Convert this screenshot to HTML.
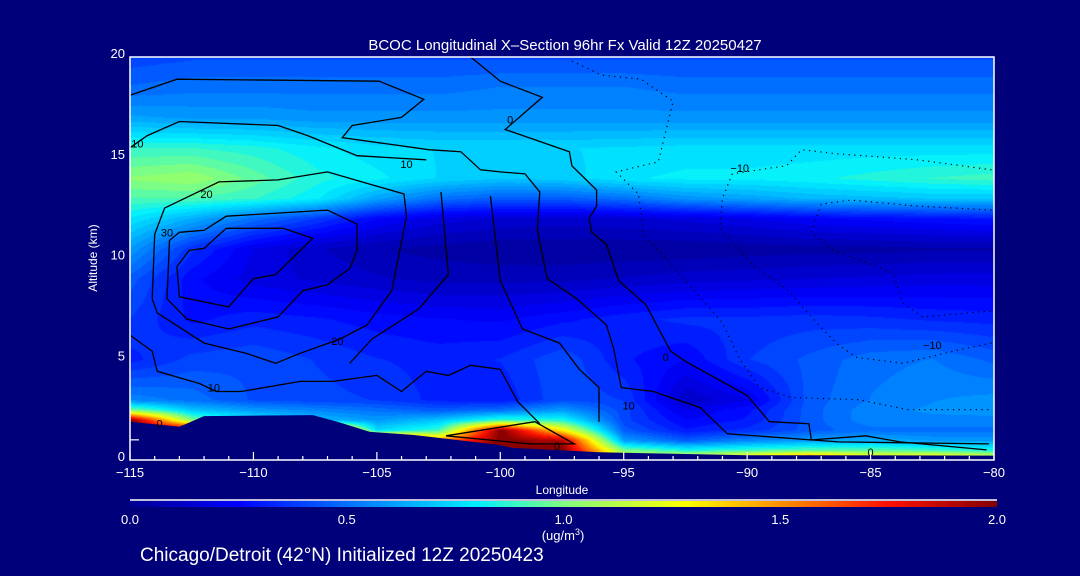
<!DOCTYPE html>
<html><head><meta charset="utf-8">
<style>
html,body{margin:0;padding:0;background:#00007a;}
#wrap{position:relative;width:1080px;height:576px;overflow:hidden;background:#00007a;font-family:"Liberation Sans",sans-serif;}
canvas{position:absolute;left:0;top:0;}
svg{position:absolute;left:0;top:0;}
</style></head>
<body>
<div id="wrap">
<canvas id="field" width="1080" height="576"></canvas>
<svg id="ov" width="1080" height="576" xmlns="http://www.w3.org/2000/svg">
 <defs>
  <linearGradient id="cbar" x1="0" x2="1" y1="0" y2="0">
   <stop offset="0" stop-color="#000090"/>
   <stop offset="0.125" stop-color="#0000ff"/>
   <stop offset="0.25" stop-color="#0070ff"/>
   <stop offset="0.4" stop-color="#00f0ff"/>
   <stop offset="0.5" stop-color="#80ff80"/>
   <stop offset="0.64" stop-color="#ffff00"/>
   <stop offset="0.75" stop-color="#ff9000"/>
   <stop offset="0.875" stop-color="#ff1000"/>
   <stop offset="1" stop-color="#800000"/>
  </linearGradient>
 </defs>
 <g id="terrain"></g>
 <g id="contours"></g>
 <g id="axes"></g>
 <text x="565" y="50" fill="#fff" font-size="15" text-anchor="middle">BCOC Longitudinal X–Section 96hr  Fx Valid 12Z 20250427</text>
 <text x="97" y="258" fill="#fff" font-size="12" text-anchor="middle" transform="rotate(-90 97 258)">Altitude (km)</text>
 <text x="562" y="494" fill="#fff" font-size="12" text-anchor="middle">Longitude</text>
 <line x1="130" y1="500" x2="997" y2="500" stroke="#fff" stroke-width="1.5"/>
 <rect x="130" y="501" width="867" height="6" fill="url(#cbar)"/>
 <g id="cblabels"></g>
 <text x="563" y="540" fill="#fff" font-size="13" text-anchor="middle">(ug/m<tspan font-size="9" dy="-5">3</tspan><tspan dy="5">)</tspan></text>
 <text x="140" y="561" fill="#fff" font-size="19">Chicago/Detroit (42°N) Initialized 12Z 20250423</text>
</svg>
</div>
<script>
// ---- data ----
const lons=[-115,-112.5,-110,-107.5,-105,-102.5,-100,-97.5,-95,-92.5,-90,-87.5,-85,-82.5,-80];
const alts=[0,0.5,1,1.5,2,2.5,3,5,7,9,10.5,12,13,14,15.5,17,18.5,20];
const conc00=[2,2,2,2,2,2,2,2,1.3,1.4,1.6,1.9,1.5,1.6,1.4];
const conc00_5=[2,2,2,2,2,2,2,2,1.0,0.85,0.9,0.95,0.95,0.9,0.85];
const conc01=[2,2,2,2,2,1.5,2.0,1.9,0.6,0.45,0.55,0.6,0.65,0.6,0.6];
const conc01_5=[2,2,2,2,0.75,0.9,2.0,1.3,0.45,0.3,0.35,0.45,0.5,0.5,0.5];
const conc02=[2.0,1.0,0.8,0.68,0.6,0.7,0.9,0.85,0.4,0.25,0.3,0.45,0.55,0.55,0.55];
const conc02_5=[1.0,0.7,0.6,0.55,0.5,0.45,0.5,0.6,0.4,0.2,0.28,0.45,0.55,0.57,0.58];
const conc03=[0.55,0.5,0.42,0.4,0.38,0.32,0.3,0.42,0.38,0.12,0.2,0.45,0.52,0.56,0.58];
const conc05=[0.32,0.4,0.42,0.38,0.34,0.32,0.34,0.42,0.3,0.25,0.38,0.44,0.5,0.52,0.46];
const conc07=[0.38,0.28,0.32,0.3,0.27,0.25,0.24,0.28,0.32,0.35,0.35,0.36,0.35,0.33,0.32];
const conc09=[0.45,0.26,0.18,0.15,0.12,0.1,0.1,0.1,0.12,0.14,0.15,0.16,0.17,0.18,0.18];
const conc10_5=[0.6,0.35,0.2,0.12,0.07,0.05,0.03,0.03,0.03,0.03,0.04,0.05,0.05,0.06,0.06];
const conc12=[0.78,0.65,0.5,0.38,0.25,0.18,0.15,0.14,0.15,0.17,0.2,0.24,0.26,0.28,0.3];
const conc13=[0.92,0.92,0.88,0.8,0.62,0.5,0.45,0.45,0.5,0.58,0.62,0.66,0.68,0.7,0.7];
const conc14=[1.02,1.05,0.95,0.85,0.8,0.74,0.7,0.72,0.78,0.8,0.8,0.82,0.85,0.88,0.9];
const conc15_5=[0.88,0.88,0.85,0.8,0.76,0.74,0.74,0.74,0.75,0.76,0.76,0.76,0.76,0.76,0.76];
const conc17=[0.62,0.6,0.6,0.58,0.58,0.58,0.58,0.58,0.58,0.58,0.58,0.58,0.58,0.58,0.58];
const conc18_5=[0.48,0.5,0.5,0.5,0.5,0.5,0.52,0.52,0.52,0.5,0.5,0.5,0.5,0.5,0.5];
const conc20=[0.4,0.42,0.42,0.42,0.42,0.42,0.42,0.42,0.42,0.42,0.42,0.42,0.42,0.42,0.42];
const concRows=[conc00,conc00_5,conc01,conc01_5,conc02,conc02_5,conc03,conc05,conc07,conc09,conc10_5,conc12,conc13,conc14,conc15_5,conc17,conc18_5,conc20];

const cmapVals=[0,0.25,0.5,0.8,1.0,1.28,1.5,1.75,2.0];
const cmapCols=[[0,0,144],[0,0,255],[0,112,255],[0,240,255],[128,255,128],[255,255,0],[255,144,0],[255,16,0],[128,0,0]];

const terrainLon=[-115,-113,-112,-107.6,-106.6,-105.3,-103.5,-100.1,-99.5,-96,-90,-80];
const terrainAlt=[1.9,1.65,2.18,2.23,1.9,1.4,1.24,0.76,0.6,0.38,0.24,0.22];

const xTicksMajor=[-115,-110,-105,-100,-95,-90,-85,-80];
const xTickLabels=["−115","−110","−105","−100","−95","−90","−85","−80"];
const yTicks=[0,5,10,15,20];
const yTickLabels=["0","5","10","15","20"];
const cbTicks=[0,0.5,1.0,1.5,2.0];
const cbTickLabels=["0.0","0.5","1.0","1.5","2.0"];

// contour lines (lon, alt)
const cOuterLon=[-115,-113.1,-104.9,-103.1,-104,-106,-106.4,-102.9,-101.6,-100.8,-100,-99,-98.4,-98.5,-98.1,-96.9,-95.7,-95.4,-95.1,-93.8,-91.9,-90.8,-86.3,-80.2];
const cOuterAlt=[18.1,18.9,18.8,17.9,17,16.6,16,15.4,15.3,14.4,14.3,14.2,13.3,11.4,9,8,6.7,5.5,3.6,3.4,2.6,1.3,0.9,0.8];
const cZeroLon=[-101.2,-100,-98.3,-99.8,-97.2,-97.1,-96.1,-96.1,-96.4,-96.3,-95.7,-95.2,-94.1,-93.1,-92.5,-90,-89.1,-87.5,-87.4,-85.2,-83.8,-80.3];
const cZeroAlt=[20,18.8,18,16.4,15.3,14.6,13.4,12.6,12,11.3,10.7,8.9,7.7,5.4,4.9,3.2,1.9,1.8,1,1.2,0.9,0.5];
const c30Lon=[-113.1,-112.6,-112,-111.1,-108.8,-107.6,-109.1,-110,-111,-113,-113.1];
const c30Alt=[9.6,10.4,10.5,11.5,11.5,11,9.2,9,7.6,8.1,9.6];
const c20aLon=[-113.5,-113.4,-113,-112,-111.1,-107,-105.8,-105.8,-106.1,-107,-108,-109,-111,-112.7,-113.5];
const c20aAlt=[8,10.9,11.3,11.4,12.1,12.4,11.7,10.4,9.5,8.7,8.4,7.1,6.5,7,8];
const c20bLon=[-114.1,-114,-113.6,-111.4,-109,-107,-103.9,-103.8,-104.4,-105.4,-106.5,-108.1,-109.1,-110.3,-112,-113.9,-114.1];
const c20bAlt=[8,11.2,12.5,13.8,13.9,14.3,13.2,12.1,8.4,6.7,6,5.3,4.8,5.3,5.8,7.3,8];
const cLow10Lon=[-115,-114.1,-113.9,-112.2,-111.5,-110.5,-108.1,-106.8,-105,-104,-103,-102.1,-101.2,-100,-99.3,-98.4];
const cLow10Alt=[6.2,5.4,4.4,3.8,3.4,3.4,3.9,3.9,4.2,3.4,4.4,4.2,4.7,4.5,2.9,1.8];
const cUp10Lon=[-115,-114.3,-113,-109,-107.8,-105.8,-103];
const cUp10Alt=[15.5,16.1,16.8,16.6,16.1,15.1,14.9];
const cELon=[-102.4,-102.1,-103.3,-105.2,-106.1];
const cEAlt=[13.3,9.2,7.5,6,4.8];
const cFLon=[-100.4,-100,-99.1,-97.6,-96.8,-96,-96];
const cFAlt=[13.1,8.9,6.5,5.8,4.5,3.6,1.9];
const cSurfLon=[-102.2,-98.6,-97,-98.8,-102.2];
const cSurfAlt=[1.2,1.9,0.8,0.8,1.2];
const d1Lon=[-97.1,-95.9,-94.3,-93,-93.6,-95.3,-94.4,-94.2,-92.2,-91,-90.3,-89.5,-88.2,-85.5,-83.5,-80.1];
const d1Alt=[19.8,19.1,18.9,17.8,14.8,14.3,13.2,11.2,8.5,6.8,5,3.6,3.1,3,2.5,2.5];
const d2Lon=[-80.1,-83.1,-86.4,-87.8,-88.4,-89,-90.6,-91,-91.1,-89.7,-88.4,-87.4,-86.4,-85.6,-83.7,-81.3,-80.1];
const d2Alt=[14.4,14.9,15.2,15.4,14.6,14.5,14.2,13,11.5,9.6,8.5,7.1,5.8,5.1,4.8,5.5,5.8];
const d3Lon=[-80.1,-83.1,-85.8,-87,-87.4,-86.5,-84.1,-83.7,-82.9,-80.1];
const d3Alt=[12.4,12.6,12.9,12.7,11.3,10.4,9.3,7.8,7.1,7.4];
const contourLons=[cOuterLon,cZeroLon,c30Lon,c20aLon,c20bLon,cLow10Lon,cUp10Lon,cELon,cFLon,cSurfLon,d1Lon,d2Lon,d3Lon];
const contourAlts=[cOuterAlt,cZeroAlt,c30Alt,c20aAlt,c20bAlt,cLow10Alt,cUp10Alt,cEAlt,cFAlt,cSurfAlt,d1Alt,d2Alt,d3Alt];
const contourDotted=[false,false,false,false,false,false,false,false,false,false,true,true,true];
const contourNames=["contour-outer","contour-zero","contour-30","contour-20a","contour-20b","contour-10-lower","contour-10-upper","contour-e","contour-f","contour-surface","contour-neg-1","contour-neg-10","contour-neg-3"];

const labelText=["0","10","20","30","20","10","10","0","0","−10","−10","10","0","0"];
const labelLon=[-99.6,-103.8,-111.9,-113.5,-106.6,-111.6,-94.8,-93.3,-97.7,-90.3,-82.5,-114.7,-113.8,-85];
const labelAlt=[16.9,14.7,13.2,11.3,5.9,3.6,2.7,5.1,0.7,14.5,5.7,15.7,1.8,0.4];

// ---- axes functions ----
const X0=130,X1=994,Y0=460,Y1=57;
function xs(lon){return X0+(lon+115)/35*(X1-X0);}
function ys(a){return Y0-a/20*(Y0-Y1);}
function cbx(v){return 130+v/2*867;}

function colorFor(v){
  if(v<=cmapVals[0]) return cmapCols[0];
  for(let i=1;i<cmapVals.length;i++){
    if(v<=cmapVals[i]){const t=(v-cmapVals[i-1])/(cmapVals[i]-cmapVals[i-1]);const a=cmapCols[i-1],b=cmapCols[i];
      return [a[0]+(b[0]-a[0])*t,a[1]+(b[1]-a[1])*t,a[2]+(b[2]-a[2])*t];}
  }
  return cmapCols[cmapCols.length-1];
}
function findIdx(arr,v){for(let i=0;i<arr.length-1;i++){if(v<=arr[i+1])return i;}return arr.length-2;}

// ---- field ----
const cv=document.getElementById('field');
const ctx=cv.getContext('2d');
const img=ctx.createImageData(X1-X0,Y0-Y1);
for(let py=Y1;py<Y0;py++){
  const a=(Y0-py)/(Y0-Y1)*20;
  const j=findIdx(alts,a);const ta=(a-alts[j])/(alts[j+1]-alts[j]);
  for(let px=X0;px<X1;px++){
    const lon=-115+(px-X0)/(X1-X0)*35;
    const i=findIdx(lons,lon);const tl=(lon-lons[i])/(lons[i+1]-lons[i]);
    const r0=concRows[j],r1=concRows[j+1];
    const v0=r0[i]+(r0[i+1]-r0[i])*tl, v1=r1[i]+(r1[i+1]-r1[i])*tl;
    let v=v0+(v1-v0)*ta;
    v=Math.round(v/0.045)*0.045;
    const c=colorFor(v);
    const k=((py-Y1)*(X1-X0)+(px-X0))*4;
    img.data[k]=c[0];img.data[k+1]=c[1];img.data[k+2]=c[2];img.data[k+3]=255;
  }
}
ctx.putImageData(img,X0,Y1);

const NS="http://www.w3.org/2000/svg";
function mk(tag,attrs,parent){const e=document.createElementNS(NS,tag);for(const k in attrs)e.setAttribute(k,attrs[k]);parent.appendChild(e);return e;}

// terrain
const tg=document.getElementById('terrain');
let tp=terrainLon.map((l,i)=>xs(l).toFixed(1)+","+ys(terrainAlt[i]).toFixed(1)).join(" ");
tp+=" "+xs(-80)+","+Y0+" "+xs(-115)+","+Y0;
const terr=mk('polygon',{points:tp,fill:'#00007a'},tg);



// contours
const cg=document.getElementById('contours');
contourLons.forEach((arr,ci)=>{
  const pts=arr.map((l,i)=>xs(l).toFixed(1)+","+ys(contourAlts[ci][i]).toFixed(1)).join(" ");
  const attrs={points:pts,fill:'none',stroke:'#000','stroke-width':contourDotted[ci]?1.2:1.3};
  if(contourDotted[ci])attrs['stroke-dasharray']='1.2,4.5';
  const pl=mk('polyline',attrs,cg);
  
  
});
labelText.forEach((t,i)=>{
  const tx=mk('text',{x:xs(labelLon[i]),y:ys(labelAlt[i])+4,'font-size':11,fill:'#000','text-anchor':'middle'},cg);
  tx.textContent=t;
  
  
});

// axes
const ag=document.getElementById('axes');
const frame=mk('rect',{x:X0,y:Y1,width:X1-X0,height:Y0-Y1,fill:'none',stroke:'#fff','stroke-width':1.5},ag);


for(let l=-115;l<=-80;l++){
  const major=xTicksMajor.indexOf(l)>=0;
  const tk=mk('line',{x1:xs(l),x2:xs(l),y1:Y0,y2:Y0-(major?8:4),stroke:'#fff','stroke-width':1.2},ag);
  
  
}
xTicksMajor.forEach((l,i)=>{
  const t=mk('text',{x:xs(l),y:Y0+17,'font-size':13,fill:'#fff','text-anchor':'middle'},ag);
  t.textContent=xTickLabels[i];
  
  
});
const lt=mk('line',{x1:X0,x2:X0+9,y1:ys(1),y2:ys(1),stroke:'#fff','stroke-width':1.2},ag);


yTicks.forEach((v,i)=>{
  const t=mk('text',{x:X0-5,y:ys(v)+1,'font-size':13,fill:'#fff','text-anchor':'end'},ag);
  t.textContent=yTickLabels[i];
  
  
});
const cbg=document.getElementById('cblabels');
cbTicks.forEach((v,i)=>{
  const t=mk('text',{x:cbx(v),y:524,'font-size':13,fill:'#fff','text-anchor':'middle'},cbg);
  t.textContent=cbTickLabels[i];
  
  
});
</script>
</body></html>
